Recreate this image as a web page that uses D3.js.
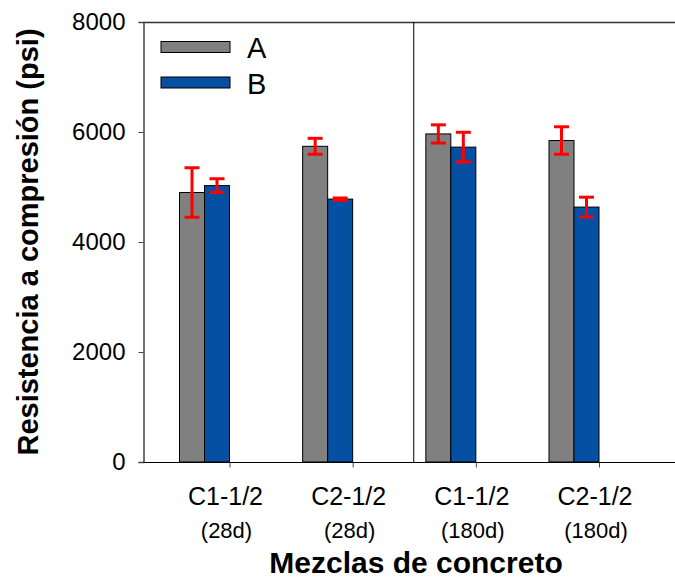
<!DOCTYPE html>
<html>
<head>
<meta charset="utf-8">
<script src="https://cdn.jsdelivr.net/npm/d3@7"></script>
<style>
  html, body { margin: 0; padding: 0; background: #fff; }
  svg { display: block; font-family: Arial, "Liberation Sans", sans-serif; }
</style>
</head>
<body>
<svg id="chart" width="675" height="579"></svg>
<script>
// ---- data ----
const categories = ["C1-1/2 (28d)", "C2-1/2 (28d)", "C1-1/2 (180d)", "C2-1/2 (180d)"];
const labelLine1 = ["C1-1/2", "C2-1/2", "C1-1/2", "C2-1/2"];
const labelLine2 = ["(28d)", "(28d)", "(180d)", "(180d)"];
const seriesNames = ["A", "B"];
const valuesA = [4900, 5740, 5965, 5845];
const valuesB = [5025, 4780, 5725, 4635];
const errorsA = [450, 145, 165, 250];
const errorsB = [125, 20, 270, 180];
const yTicks = [0, 2000, 4000, 6000, 8000];
const xTitle = "Mezclas de concreto";
const yTitle = "Resistencia a compresión (psi)";

const colors = { A: "#808080", B: "#0550A2" };

const svg = d3.select("#chart");
const pLeft = 143.5, pTop = 22, pBottom = 462, pRight = 675;

const y = d3.scaleLinear().domain([0, 8000]).range([pBottom, pTop]);
const x = d3.scalePoint().domain(categories).range([229.5, 599]);
const sub = d3.scaleBand().domain(seriesNames).range([-50, 0]).padding(0);

const rows = [];
categories.forEach((c, i) => {
  rows.push({ cat: c, s: "A", v: valuesA[i], e: errorsA[i] });
  rows.push({ cat: c, s: "B", v: valuesB[i], e: errorsB[i] });
});

// bars
svg.append("g").selectAll("rect").data(rows).join("rect")
  .attr("x", d => x(d.cat) + sub(d.s))
  .attr("y", d => y(d.v))
  .attr("width", sub.bandwidth())
  .attr("height", d => y(0) - y(d.v))
  .attr("fill", d => colors[d.s])
  .attr("stroke", "#000")
  .attr("stroke-width", 1);

// error bars
const eg = svg.append("g").attr("stroke", "#ff0000").attr("stroke-width", 3);
rows.forEach(d => {
  const cx = x(d.cat) + sub(d.s) + sub.bandwidth() / 2;
  eg.append("line").attr("x1", cx).attr("x2", cx)
    .attr("y1", y(d.v + d.e)).attr("y2", y(d.v - d.e));
  [d.v + d.e, d.v - d.e].forEach(v => {
    eg.append("line").attr("x1", cx - 7.5).attr("x2", cx + 7.5)
      .attr("y1", y(v)).attr("y2", y(v));
  });
});

// frame lines
svg.append("line").attr("x1", pLeft).attr("x2", pRight).attr("y1", pTop + 0.5).attr("y2", pTop + 0.5)
  .attr("stroke", "#333").attr("stroke-width", 1.5);
const divX = (x(categories[1]) + x(categories[2])) / 2 - 0.5;
svg.append("line").attr("x1", divX).attr("x2", divX).attr("y1", pTop).attr("y2", pBottom)
  .attr("stroke", "#000").attr("stroke-width", 1);

// y axis
const yAxis = svg.append("g").attr("transform", `translate(${pLeft},0)`)
  .call(d3.axisLeft(y).tickValues(yTicks).tickSize(5).tickPadding(13).tickFormat(d3.format("d")));
yAxis.select(".domain").attr("stroke", "#444").attr("stroke-width", 1.5);
yAxis.selectAll(".tick line").attr("stroke", "#444");
yAxis.selectAll("text").attr("font-size", 24).attr("fill", "#000")
  .attr("font-family", "Arial, 'Liberation Sans', sans-serif");

// x axis
const xAxis = svg.append("g").attr("transform", `translate(0,${pBottom + 0.5})`)
  .call(d3.axisBottom(x).tickSize(5).tickFormat(""));
xAxis.select(".domain").attr("d", `M${pLeft},0H${pRight}`).attr("stroke", "#000");
xAxis.selectAll(".tick line").attr("stroke", "#444");

// x labels (two lines)
const lab = svg.append("g").attr("fill", "#000").attr("text-anchor", "middle");
categories.forEach((c, i) => {
  lab.append("text").attr("x", x(c) - 4).attr("y", 505).attr("font-size", 25).text(labelLine1[i]);
  lab.append("text").attr("x", x(c) - 3).attr("y", 538).attr("font-size", 22).text(labelLine2[i]);
});

// axis titles
svg.append("text").attr("x", 416).attr("y", 573).attr("text-anchor", "middle")
  .attr("font-size", 30).attr("font-weight", "bold").text(xTitle);
svg.append("text").attr("transform", `translate(38,${(pTop + pBottom) / 2}) rotate(-90)`)
  .attr("text-anchor", "middle").attr("font-size", 29).attr("font-weight", "bold").text(yTitle);

// legend
const lg = svg.append("g");
seriesNames.forEach((s, i) => {
  const ly = 41.5 + i * 35.5;
  lg.append("rect").attr("x", 161).attr("y", ly).attr("width", 69).attr("height", 11)
    .attr("fill", colors[s]).attr("stroke", "#000").attr("stroke-width", 1);
  lg.append("text").attr("x", 247).attr("y", ly + 16.5).attr("font-size", 29).text(s);
});
</script>
</body>
</html>
